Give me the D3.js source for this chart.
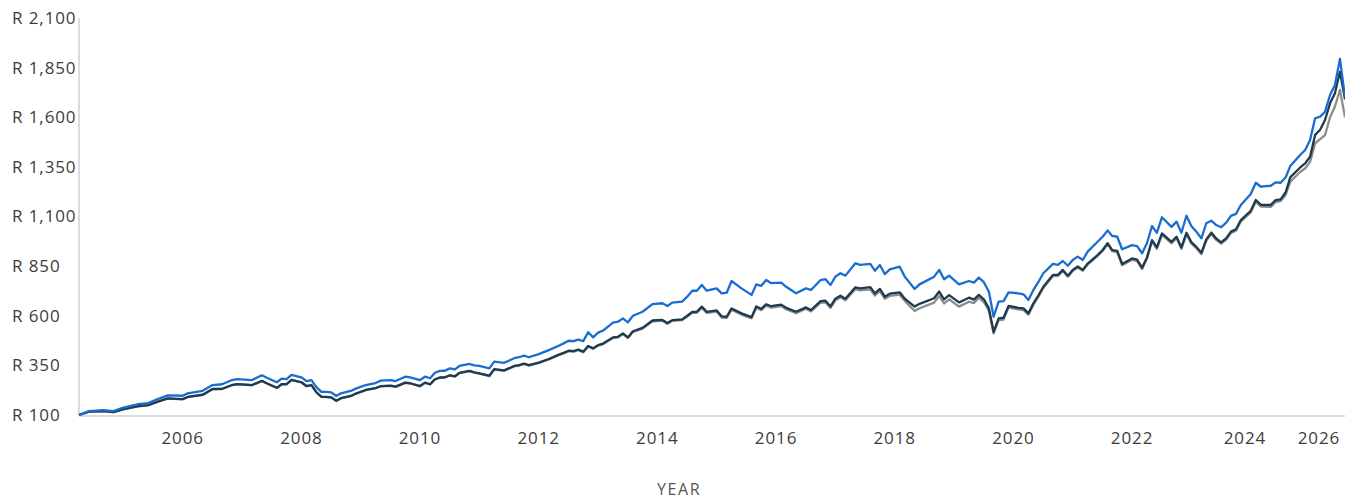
<!DOCTYPE html>
<html>
<head>
<meta charset="utf-8">
<script src="https://cdn.jsdelivr.net/npm/d3@7"></script>
<style>
  body { margin: 0; background: #fff; }
  text { font-family: "Open Sans", sans-serif; fill: #3c3c3c; }
</style>
</head>
<body>
<div id="chart"></div>
<script>
const svgWidth = 1345;
const svgHeight = 499;

const chartMargin = { top: 18, right: 0, bottom: 84, left: 79 };

const width = svgWidth - chartMargin.left - chartMargin.right;
const height = svgHeight - chartMargin.top - chartMargin.bottom;

// months (YYYY-MM) and the three cumulative growth series (R 100 invested)
const months = [
  "2004-10","2004-12","2005-03","2005-05","2005-07","2005-10","2005-12","2006-02","2006-04","2006-07",
  "2006-08","2006-11","2007-01","2007-03","2007-05","2007-06","2007-09","2007-11","2007-12","2008-02",
  "2008-03","2008-04","2008-05","2008-07","2008-08","2008-09","2008-10","2008-11","2008-12","2009-01",
  "2009-02","2009-03","2009-05","2009-06","2009-08","2009-10","2009-11","2010-01","2010-02","2010-04",
  "2010-05","2010-07","2010-08","2010-09","2010-10","2010-11","2010-12","2011-01","2011-02","2011-03",
  "2011-05","2011-06","2011-07","2011-09","2011-10","2011-12","2012-02","2012-03","2012-04","2012-05",
  "2012-07","2012-09","2012-11","2012-12","2013-01","2013-02","2013-03","2013-04","2013-05","2013-06",
  "2013-07","2013-08","2013-10","2013-11","2013-12","2014-01","2014-02","2014-04","2014-06","2014-08",
  "2014-09","2014-10","2014-12","2015-01","2015-02","2015-03","2015-04","2015-05","2015-07","2015-08",
  "2015-09","2015-10","2015-12","2016-02","2016-03","2016-04","2016-05","2016-06","2016-08","2016-09",
  "2016-11","2017-01","2017-02","2017-04","2017-05","2017-06","2017-07","2017-08","2017-09","2017-11",
  "2017-12","2018-02","2018-03","2018-04","2018-05","2018-06","2018-08","2018-09","2018-11","2018-12",
  "2019-03","2019-04","2019-05","2019-06","2019-08","2019-10","2019-11","2019-12","2020-01","2020-02",
  "2020-03","2020-04","2020-05","2020-06","2020-08","2020-09","2020-10","2020-11","2020-12","2021-01",
  "2021-03","2021-04","2021-05","2021-06","2021-07","2021-08","2021-09","2021-10","2021-12","2022-01",
  "2022-02","2022-03","2022-04","2022-05","2022-07","2022-08","2022-09","2022-10","2022-11","2022-12",
  "2023-01","2023-03","2023-04","2023-05","2023-06","2023-07","2023-08","2023-09","2023-10","2023-11",
  "2023-12","2024-01","2024-02","2024-03","2024-04","2024-05","2024-07","2024-08","2024-09","2024-11",
  "2024-12","2025-01","2025-02","2025-03","2025-05","2025-06","2025-07","2025-08","2025-09","2025-10",
  "2025-11","2025-12","2026-01","2026-02"
];

const fundValues = [
  100,120,125,120,137,155,160,181,199,197,
  209,222,251,255,276,281,276,300,288,265,
  283,281,302,290,271,276,240,217,216,214,
  196,209,221,233,251,261,273,276,271,293,
  290,276,293,285,313,322,323,335,330,347,
  357,350,347,335,369,363,386,391,399,391,
  407,427,449,461,474,472,480,472,517,491,
  515,525,565,570,587,567,600,620,659,663,
  649,666,671,696,726,726,755,726,738,713,
  716,775,738,705,758,751,780,764,767,746,
  713,738,730,780,784,755,797,814,802,864,
  856,861,827,856,810,834,847,797,735,758,
  797,831,784,802,758,775,767,792,769,721,
  595,671,674,718,713,708,679,730,769,814,
  861,856,876,852,881,898,881,923,973,998,
  1030,1002,998,935,956,951,915,965,1052,1018,
  1096,1048,1074,1018,1104,1052,1023,990,1066,1079,
  1057,1046,1069,1103,1113,1158,1213,1270,1250,1255,
  1272,1270,1298,1354,1410,1435,1485,1595,1603,1628,
  1712,1763,1894,1700
];

const benchmarkValues = [
  100,117,120,115,129,145,150,168,184,180,
  191,202,231,232,251,256,251,272,260,237,
  255,256,277,265,246,251,215,192,191,189,
  172,185,196,208,226,236,245,248,243,263,
  260,246,263,255,280,289,290,300,295,312,
  322,315,310,298,331,325,347,351,359,351,
  364,382,404,413,424,422,430,419,448,436,
  452,460,491,494,511,491,522,539,576,579,
  563,578,582,600,620,620,646,620,627,597,
  595,637,612,593,647,635,658,648,656,640,
  620,642,629,674,676,647,686,701,686,743,
  738,744,713,735,696,711,718,686,646,660,
  688,722,683,704,667,691,681,705,683,637,
  519,587,590,650,640,637,612,663,702,746,
  806,806,831,802,831,848,831,863,906,931,
  966,931,927,861,889,883,842,894,981,944,
  1015,972,998,944,1018,971,947,917,985,1019,
  989,970,991,1024,1036,1082,1129,1183,1159,1158,
  1183,1186,1222,1297,1347,1368,1401,1511,1537,1586,
  1670,1721,1830,1690
];

const peerValues = [
  100,117,119,114,128,144,149,167,183,179,
  190,201,230,231,250,255,250,271,259,236,
  254,255,276,264,245,250,214,191,190,188,
  171,184,195,207,225,235,244,247,242,262,
  259,245,262,254,279,288,289,299,294,311,
  321,314,309,296,329,323,345,349,357,349,
  362,380,401,410,421,419,427,416,445,433,
  449,457,488,491,508,488,519,535,572,575,
  559,574,578,596,615,615,640,614,621,591,
  589,631,606,587,640,628,651,641,649,633,
  613,635,622,666,668,639,678,693,678,733,
  728,733,702,724,686,700,706,675,624,638,
  666,700,662,683,646,671,664,691,669,624,
  511,578,581,641,632,629,605,656,695,740,
  800,800,826,797,826,843,826,858,901,926,
  961,925,920,854,882,876,835,888,974,937,
  1008,965,991,937,1011,964,940,910,978,1012,
  982,963,984,1017,1029,1075,1121,1175,1150,1148,
  1173,1178,1210,1275,1324,1343,1375,1469,1490,1510,
  1600,1654,1738,1600
];

const yTicks = [100, 350, 600, 850, 1100, 1350, 1600, 1850, 2100];
const xTickYears = [2006, 2008, 2010, 2012, 2014, 2016, 2018, 2020, 2022, 2024, 2026];

const parseMonth = d3.timeParse("%Y-%m");
const dates = months.map(parseMonth);

const svg = d3.select("#chart")
  .append("svg")
  .attr("width", svgWidth)
  .attr("height", svgHeight);

const chartGroup = svg.append("g")
  .attr("transform", `translate(${chartMargin.left}, ${chartMargin.top})`);

const xScale = d3.scaleTime()
  .domain(d3.extent(dates))
  .range([0, width]);

const yScale = d3.scaleLinear()
  .domain([100, 2100])
  .range([height, 0]);

// axis lines
chartGroup.append("line")
  .attr("x1", 0).attr("x2", 0)
  .attr("y1", 0).attr("y2", height)
  .attr("stroke", "#dcdcdc")
  .attr("stroke-width", 2);

chartGroup.append("line")
  .attr("x1", 0).attr("x2", width)
  .attr("y1", height + 1).attr("y2", height + 1)
  .attr("stroke", "#dcdcdc")
  .attr("stroke-width", 2);

// y labels, left aligned
const rand = d3.format(",");
svg.append("g")
  .selectAll("text")
  .data(yTicks)
  .enter()
  .append("text")
  .attr("x", 12)
  .attr("y", d => chartMargin.top + yScale(d))
  .attr("dy", "0.35em")
  .attr("font-size", 17)
  .attr("letter-spacing", 0.9)
  .text(d => "R " + rand(d));

// x labels at mid-year, nudged so they stay inside and don't crowd
let xPos = xTickYears.map(yr => xScale(new Date(yr, 6, 1)));
const maxX = width - 26;
const minGap = 74;
for (let i = xPos.length - 1; i >= 0; i--) {
  if (i === xPos.length - 1) xPos[i] = Math.min(xPos[i], maxX);
  else xPos[i] = Math.min(xPos[i], xPos[i + 1] - minGap);
}

chartGroup.append("g")
  .selectAll("text")
  .data(xTickYears)
  .enter()
  .append("text")
  .attr("x", (d, i) => xPos[i])
  .attr("y", height + 29)
  .attr("text-anchor", "middle")
  .attr("font-size", 17)
  .attr("letter-spacing", 0.9)
  .text(d => d);

svg.append("text")
  .attr("x", 679)
  .attr("y", 495)
  .attr("text-anchor", "middle")
  .attr("font-size", 16)
  .attr("letter-spacing", 1.6)
  .style("fill", "#555")
  .text("YEAR");

// lines
const seriesList = [
  { values: peerValues, color: "#8c8c8c" },
  { values: benchmarkValues, color: "#1c3b50" },
  { values: fundValues, color: "#1a6dd0" }
];

const line = d3.line()
  .x((d, i) => xScale(dates[i]))
  .y(d => yScale(d));

seriesList.forEach(s => {
  chartGroup.append("path")
    .datum(s.values)
    .attr("fill", "none")
    .attr("stroke", s.color)
    .attr("stroke-width", 2.3)
    .attr("stroke-linejoin", "round")
    .attr("d", line);
});
</script>
</body>
</html>
